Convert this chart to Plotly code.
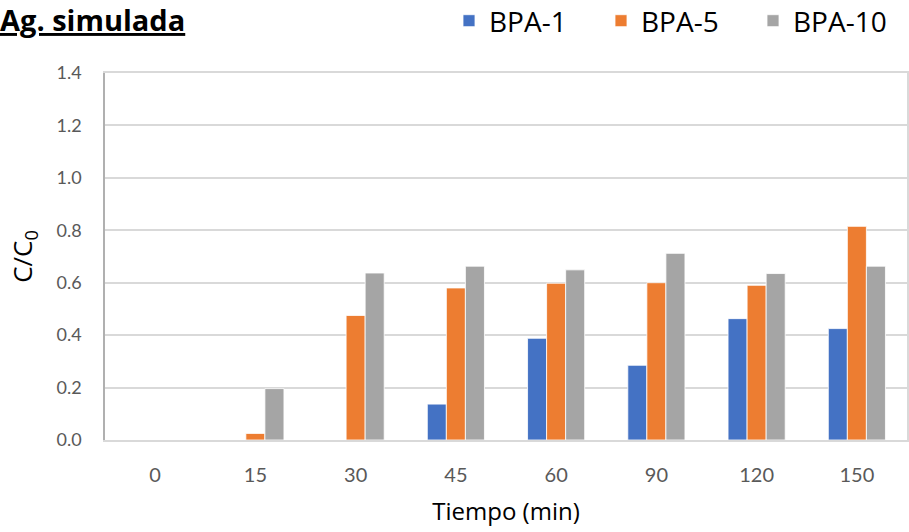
import plotly.graph_objects as go

categories = ["0", "15", "30", "45", "60", "90", "120", "150"]
bpa1 = [0, 0, 0, 0.137, 0.388, 0.285, 0.463, 0.425]
bpa5 = [0, 0.025, 0.475, 0.58, 0.598, 0.6, 0.59, 0.815]
bpa10 = [0, 0.196, 0.637, 0.663, 0.649, 0.712, 0.635, 0.663]
y_ticks = [0, 0.2, 0.4, 0.6, 0.8, 1.0, 1.2, 1.4]

NUM = "Lato"
TXT = "Open Sans"
fig = go.Figure()
for name, vals, col in [("BPA-1", bpa1, "#4472C4"), ("BPA-5", bpa5, "#ED7D31"), ("BPA-10", bpa10, "#A5A5A5")]:
    fig.add_trace(go.Bar(x=categories, y=vals, name=name,
                         marker=dict(color=col, line=dict(color="white", width=0.8))))

# invisible trace to provide a right border axis
fig.add_trace(go.Scatter(x=[categories[0]], y=[0], yaxis="y2", mode="markers",
                         marker=dict(opacity=0), showlegend=False, hoverinfo="skip"))

fig.update_layout(
    width=909, height=532,
    margin=dict(l=105, r=2, t=73, b=92, autoexpand=False),
    paper_bgcolor="white", plot_bgcolor="white",
    barmode="group", bargap=0.43, bargroupgap=0,
    font=dict(family=NUM, color="#595959"),
    legend=dict(orientation="h", x=(449 - 105) / 802, xanchor="left", y=1 + (73 - 21) / 367,
                yanchor="middle", font=dict(size=28, color="#000000", family=TXT), entrywidth=107,
                entrywidthmode="pixels", bgcolor="rgba(0,0,0,0)", borderwidth=0),
    xaxis=dict(type="category", showline=True, linecolor="#d9d9d9", linewidth=1.5, mirror=True,
               tickfont=dict(size=20, color="#595959"), ticks="", ticklabelstandoff=16,
               title=dict(text="Tiempo (min)", font=dict(size=24, color="#000000", family=TXT), standoff=18)),
    yaxis=dict(range=[0, 1.4], tickvals=y_ticks, ticktext=[f"{v:.1f}" for v in y_ticks],
               showgrid=True, gridcolor="#d9d9d9", gridwidth=1.5, showline=True, linecolor="#b0b0b0",
               linewidth=1.5, zeroline=False, ticks="", ticklabelstandoff=18,
               tickfont=dict(size=18, color="#595959"),
               title=dict(text="C/C<sub>0</sub>", font=dict(size=26, color="#000000", family=TXT), standoff=16)),
    yaxis2=dict(range=[0, 1.4], overlaying="y", side="right", showline=True, linecolor="#d9d9d9",
                linewidth=1.5, showgrid=False, showticklabels=False, ticks="", zeroline=False),
    annotations=[dict(text="<b><u>Ag. simulada</u></b>", xref="paper", yref="paper",
                      x=(187 - 105) / 802, xanchor="right", y=1 + (73 - 19) / 367, yanchor="middle",
                      showarrow=False, font=dict(size=29, color="#000000", family=TXT))],
)
fig.write_html("out.html")
